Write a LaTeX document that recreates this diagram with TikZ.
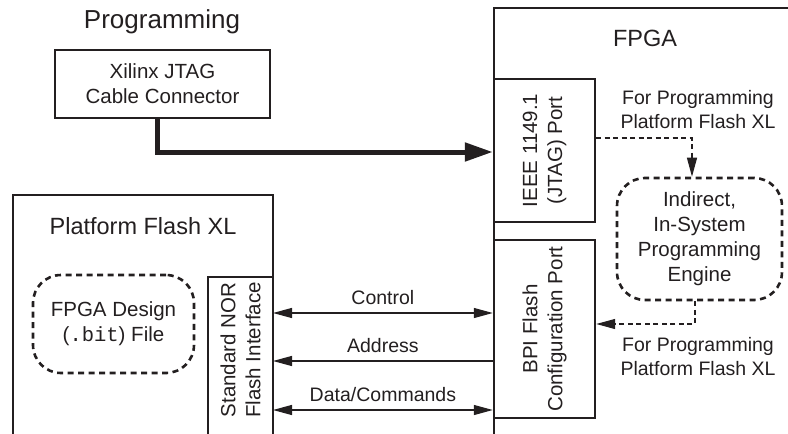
\documentclass[tikz,border=0pt]{standalone}
\usepackage{fontspec}
\setmainfont{Liberation Sans}
\setmonofont{Liberation Mono}
\usetikzlibrary{arrows.meta}
\definecolor{ink}{HTML}{231F20}
\tikzset{
  box/.style={draw=ink, line width=2.4pt, inner sep=0pt},
  txt/.style={text=ink, font=\fontsize{20.5}{25}\selectfont, align=center, inner sep=0pt},
  ann/.style={text=ink, font=\fontsize{19.5}{24}\selectfont, align=center, inner sep=0pt},
  title/.style={text=ink, font=\fontsize{23.5}{28}\selectfont, inner sep=0pt},
  dbox/.style={draw=ink, line width=2.6pt, rounded corners=28pt, dash pattern=on 6pt off 4.5pt, inner sep=0pt},
  sig/.style={draw=ink, line width=1.2pt, {Triangle[length=19pt,width=10pt]}-{Triangle[length=19pt,width=10pt]}},
  sigl/.style={draw=ink, line width=1.2pt, {Triangle[length=19pt,width=10pt]}-},
  dar/.style={draw=ink, line width=1.2pt, dash pattern=on 5pt off 3.5pt, -{Triangle[length=19pt,width=10pt]}},
  thick arrow/.style={draw=ink, line width=5pt, -{Triangle[length=28pt,width=18pt]}}
}
\begin{document}
\begin{tikzpicture}[x=1pt,y=-1pt]
\useasboundingbox (0,0) rectangle (788,434);
% Programming
\node[text=ink, font=\fontsize{26}{30}\selectfont, inner sep=0pt] (prog) at (162,22) {Programming};
\node[box, minimum width=215pt, minimum height=68pt] (jtag) at (162.5,84) {};
\node[txt] at (jtag.center) {Xilinx JTAG\\Cable Connector};
% FPGA outer
\draw[ink, line width=2.4pt] (494,436) -- (494,8) -- (790,8);
\node[title] (fpga) at (645,38) {FPGA};
% ports
\node[box, minimum width=101pt, minimum height=143pt] (jport) at (544.5,150.5) {};
\node[txt, rotate=90] at (jport.center) {IEEE 1149.1\\(JTAG) Port};
\node[box, minimum width=101pt, minimum height=178pt] (bpi) at (544.5,329) {};
\node[txt, rotate=90] at (bpi.center) {BPI Flash\\Configuration Port};
% thick JTAG connection
\draw[thick arrow] (jtag.south -| 157,0) |- (jport.west |- 0,152);
% Indirect engine
\node[dbox, minimum width=165pt, minimum height=122pt] (eng) at (699.5,239) {};
\node[txt] at (eng.center) {Indirect,\\In-System\\Programming\\Engine};
\node[ann] (ann1) at (698,110) {For Programming\\Platform Flash XL};
\node[ann] (ann2) at (698,357) {For Programming\\Platform Flash XL};
\draw[dar] (jport.east |- 0,138) -| (eng.north -| 692,0);
\draw[dar] (eng.south -| 695,0) |- (bpi.east |- 0,324);
% Platform Flash XL
\draw[ink, line width=2.4pt] (13,436) -- (13,195) -- (273,195) -- (273,436);
\node[title] (pfx) at (143,226) {Platform Flash XL};
\draw[ink, line width=2.4pt] (208,436) -- (208,277) -- (273,277);
\coordinate (nor) at (273,277);
\node[txt, rotate=90] at (240.5,350) {Standard NOR\\Flash Interface};
\node[dbox, minimum width=161pt, minimum height=98pt] (fd) at (113.5,324) {};
\node[txt] at (fd.center) {FPGA Design\\(\texttt{.bit}) File};
% signals
\draw[sig] (nor |- 0,313) -- node[ann, above=8pt] {Control} (bpi.west |- 0,313);
\draw[sigl] (nor |- 0,361) -- node[ann, above=8pt] {Address} (bpi.west |- 0,361);
\draw[sig] (nor |- 0,410) -- node[ann, above=8pt] {Data/Commands} (bpi.west |- 0,410);
\end{tikzpicture}
\end{document}
